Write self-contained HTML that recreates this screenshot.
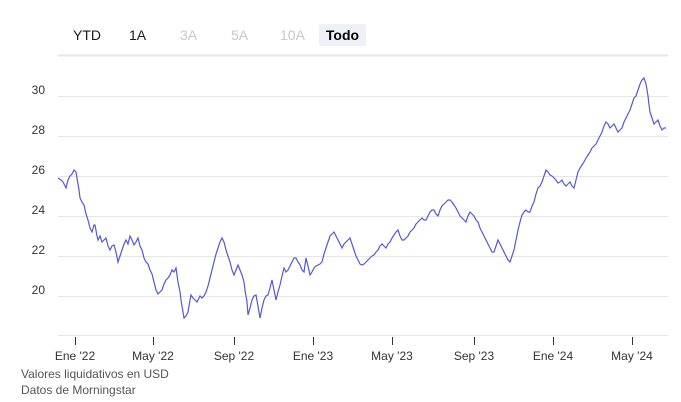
<!DOCTYPE html>
<html><head><style>
body{margin:0;background:#fff;font-family:"Liberation Sans",Arial,sans-serif;}
.wrap{position:relative;width:681px;height:402px;overflow:hidden;}
.btn{position:absolute;top:24px;font-size:14px;height:22px;line-height:22px;}
</style></head><body><div class="wrap">
<div class="btn" style="left:73px;color:#1b1b1b">YTD</div>
<div class="btn" style="left:129px;color:#1b1b1b">1A</div>
<div class="btn" style="left:180px;color:#c8c8c8">3A</div>
<div class="btn" style="left:231px;color:#c8c8c8">5A</div>
<div class="btn" style="left:280px;color:#c8c8c8">10A</div>
<div class="btn" style="left:319px;width:47px;background:#eef2f8;border-radius:2px;text-align:center;color:#000;font-weight:bold;">Todo</div>
<svg width="681" height="402" style="position:absolute;left:0;top:0" font-family="Liberation Sans, Arial, sans-serif">
<g stroke="#e6e6e6" stroke-width="1">
<line x1="58" x2="668" y1="55.5" y2="55.5" stroke-width="2"/>
<line x1="58" x2="668" y1="96.5" y2="96.5"/>
<line x1="58" x2="668" y1="136.5" y2="136.5"/>
<line x1="58" x2="668" y1="176.5" y2="176.5"/>
<line x1="58" x2="668" y1="216.5" y2="216.5"/>
<line x1="58" x2="668" y1="256.5" y2="256.5"/>
<line x1="58" x2="668" y1="296.5" y2="296.5"/>
<line x1="58" x2="668" y1="335.5" y2="335.5"/>
</g>
<g font-size="12" fill="#333" text-anchor="end">
<text x="45" y="94">30</text><text x="45" y="134">28</text><text x="45" y="174">26</text>
<text x="45" y="214">24</text><text x="45" y="254">22</text><text x="45" y="294">20</text>
</g>
<g stroke="#333" stroke-width="1">
<line x1="75.5" x2="75.5" y1="337" y2="345"/><line x1="153.5" x2="153.5" y1="337" y2="345"/>
<line x1="234.5" x2="234.5" y1="337" y2="345"/><line x1="313.5" x2="313.5" y1="337" y2="345"/>
<line x1="392.5" x2="392.5" y1="337" y2="345"/><line x1="474.5" x2="474.5" y1="337" y2="345"/>
<line x1="553.5" x2="553.5" y1="337" y2="345"/><line x1="632.5" x2="632.5" y1="337" y2="345"/>
</g>
<g font-size="12" fill="#333" text-anchor="middle">
<text x="75" y="360">Ene '22</text><text x="153" y="360">May '22</text><text x="234" y="360">Sep '22</text>
<text x="313" y="360">Ene '23</text><text x="392" y="360">May '23</text><text x="474" y="360">Sep '23</text>
<text x="553" y="360">Ene '24</text><text x="632" y="360">May '24</text>
</g>
<text x="21" y="378" font-size="12" fill="#555">Valores liquidativos en USD</text>
<text x="21" y="394" font-size="12" fill="#555">Datos de Morningstar</text>
<polyline fill="none" stroke="#5558d9" stroke-width="1.2" points="58,178 61,180 63,182 66,188 68,180 70,176 72,174 74,170 76,172 77,178 79,190 80,198 82,202 84,205 86,214 88,220 90,228 92,232 94,225 95,225 97,236 98,240 100,236 102,242 104,240 106,238 108,246 110,250 112,246 114,245 116,252 118,262 120,256 122,250 124,244 126,240 128,244 130,236 132,240 134,245 136,242 138,238 140,246 142,250 144,258 146,262 148,264 150,270 152,274 154,282 156,290 158,294 160,292 162,290 164,284 166,280 168,278 170,275 172,270 174,272 176,268 178,282 180,292 181,300 183,312 184,318 186,316 188,312 190,300 191,295 193,298 195,300 197,302 198,300 200,296 202,298 204,296 206,292 208,286 210,278 212,270 214,262 216,254 218,248 220,242 222,238 224,242 226,250 228,256 230,262 232,270 234,275 236,270 238,265 240,270 242,275 244,282 245,290 247,302 248,315 250,308 252,300 254,296 256,295 258,306 260,318 262,308 264,300 266,296 268,295 270,288 272,280 274,290 276,300 278,292 280,285 282,276 284,268 286,272 288,270 290,266 292,262 294,258 296,258 298,262 300,265 302,270 304,272 306,258 308,266 310,275 312,272 314,268 316,266 318,265 320,264 322,262 324,254 326,248 328,242 330,236 332,234 334,232 336,236 338,240 340,244 342,248 344,244 346,242 348,240 350,238 352,244 354,250 356,256 358,260 360,264 362,265 364,264 366,262 368,260 370,258 372,256 374,255 376,252 378,250 380,246 382,244 384,246 386,248 388,244 390,242 392,238 394,235 396,232 398,230 400,236 402,240 404,240 406,238 408,236 410,232 412,230 414,228 416,224 418,222 420,220 422,218 424,220 426,220 428,216 430,212 432,210 434,210 436,214 438,216 440,210 442,206 444,204 446,202 448,200 450,200 452,202 454,205 456,208 458,212 460,216 462,218 464,220 466,222 468,216 470,212 472,214 474,216 476,220 478,222 480,228 482,232 484,236 486,240 488,244 490,248 492,252 494,252 496,246 498,240 500,244 502,248 504,252 506,256 508,260 510,262 512,256 514,250 516,240 518,230 520,222 522,215 524,212 526,210 528,212 530,212 532,206 534,202 536,194 538,188 540,186 542,182 544,176 546,170 548,172 550,175 552,176 554,178 556,180 558,183 560,182 562,180 564,184 566,186 568,184 570,182 572,186 574,188 576,180 578,172 580,168 582,165 584,162 586,158 588,155 590,152 592,148 594,146 596,144 598,140 600,136 602,132 604,126 606,122 608,124 610,128 612,126 614,124 616,128 618,132 620,130 622,128 624,122 626,118 628,114 630,110 632,104 634,98 636,96 638,90 640,84 642,80 644,78 646,84 648,96 649,105 650,112 652,118 654,124 656,122 658,120 660,126 662,130 664,128 666,128"/>
</svg>
</div></body></html>
